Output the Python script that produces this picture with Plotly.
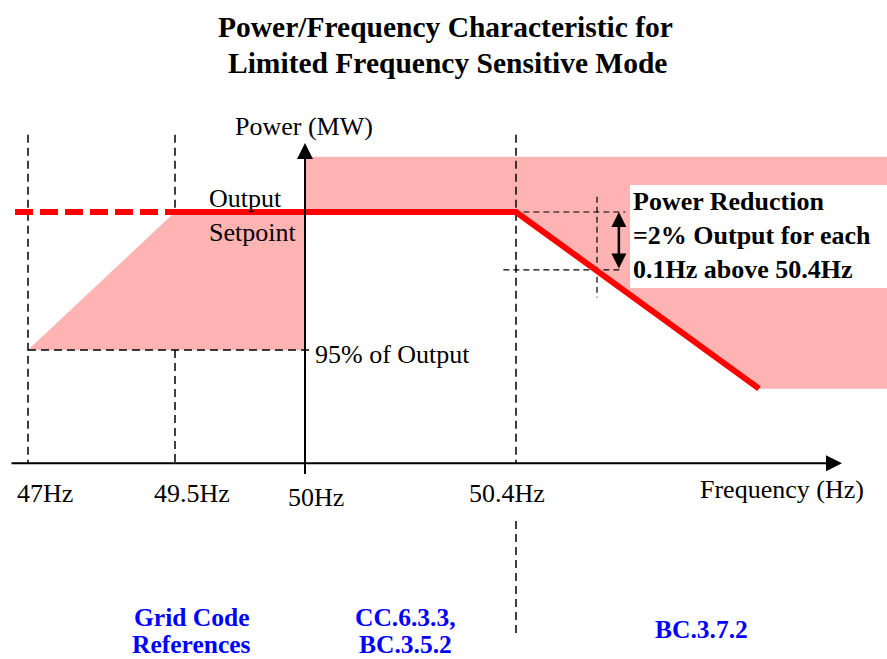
import numpy as np
import plotly.graph_objects as go

# frequency ticks (Hz) and their labels
tick_freqs = [47, 49.5, 50, 50.4]
tick_labels = ["47Hz", "49.5Hz", "50Hz", "50.4Hz"]

# power levels in % of output
setpoint_pct = 100
floor_pct = 95
band_top_pct = 102
axis_pct = 90.9

# droop above 50.4 Hz
droop_freqs = [49.5, 50.4, 50.7]
droop_pct = [100, 100, 93.6]
step_freq = 50.5
step_pct = 97.9

refs_left = ["Grid Code", "References"]
refs_mid = ["CC.6.3.3,", "BC.3.5.2"]
refs_right = "BC.3.7.2"

W, H = 887, 659

# schematic (not to scale) frequency axis
FREQ_KNOTS = [46, 47, 49.5, 50, 50.4, 51.4]
POS_KNOTS = [-31, 28, 175, 305, 516, 1326]


def sx(f):
    return list(np.interp(f, FREQ_KNOTS, POS_KNOTS))


PINK = "#ffb3b3"
RED = "#ff0000"
BLUE = "#0000ff"
SERIF = "Liberation Serif, Times New Roman, serif"

fig = go.Figure()

# shaded regions
fig.add_trace(go.Scatter(
    x=sx([47, 49.5, 50, 50]), y=[floor_pct, setpoint_pct, setpoint_pct, floor_pct],
    fill="toself", fillcolor=PINK, line=dict(width=0), mode="lines", hoverinfo="skip"))
fig.add_trace(go.Scatter(
    x=sx([50, 51.2, 51.2, droop_freqs[2], 50.4, 50]),
    y=[band_top_pct, band_top_pct, droop_pct[2], droop_pct[2], setpoint_pct, setpoint_pct],
    fill="toself", fillcolor=PINK, line=dict(width=0), mode="lines", hoverinfo="skip"))


def dashed(xs, ys, width=1.5, dash="8px,5px", color="black"):
    fig.add_trace(go.Scatter(x=sx(xs), y=ys, mode="lines", hoverinfo="skip",
                             line=dict(color=color, width=width, dash=dash)))


# guide lines
dashed([47, 47], [102.8, axis_pct])
dashed([49.5, 49.5], [102.8, setpoint_pct])
dashed([49.5, 49.5], [floor_pct, axis_pct])
dashed([50.4, 50.4], [102.8, axis_pct])
dashed([50.4, 50.4], [88.8, 84.7])
dashed([47, 50.015], [floor_pct, floor_pct])
dashed([50.376, 50.535], [setpoint_pct, setpoint_pct], width=1.2, dash="6px,4px")
dashed([50.376, 50.53], [step_pct, step_pct], width=1.2, dash="6px,4px")
dashed([step_freq, step_freq], [100.55, 96.9], width=1.2, dash="6px,4px")

# characteristic
fig.add_trace(go.Scatter(x=sx([46.78, 49.5]), y=[setpoint_pct, setpoint_pct], mode="lines",
                         line=dict(color=RED, width=6, dash="18px,7px"), hoverinfo="skip"))
fig.add_trace(go.Scatter(x=sx(droop_freqs), y=droop_pct, mode="lines",
                         line=dict(color=RED, width=6), hoverinfo="skip"))

# axes with arrows
fig.add_annotation(x=sx([50.8025])[0], y=axis_pct, ax=sx([46.695])[0], ay=axis_pct,
                   xref="x", yref="y", axref="x", ayref="y", text="", showarrow=True,
                   arrowhead=2, arrowsize=1.6, arrowwidth=2, arrowcolor="black", standoff=0)
fig.add_annotation(x=sx([50])[0], y=102.5, ax=sx([50])[0], ay=90.45,
                   xref="x", yref="y", axref="x", ayref="y", text="", showarrow=True,
                   arrowhead=2, arrowsize=1.6, arrowwidth=2, arrowcolor="black", standoff=0)
fig.add_annotation(x=sx([50.527])[0], y=setpoint_pct, ax=sx([50.527])[0], ay=step_pct,
                   xref="x", yref="y", axref="x", ayref="y", text="", showarrow=True,
                   arrowhead=2, arrowside="end+start", arrowsize=1.2, arrowwidth=2.5,
                   arrowcolor="black", standoff=0, startstandoff=0)

# white box behind the droop note
fig.add_shape(type="rect", xref="paper", yref="paper", x0=630 / W, x1=1, y0=1 - 288 / H,
              y1=1 - 185 / H, fillcolor="white", line=dict(width=0), layer="above")


def label(px, py, text, size=26, bold=False, color="black", anchor="center"):
    if bold:
        text = "<b>" + text + "</b>"
    fig.add_annotation(x=px / W, y=1 - py / H, xref="paper", yref="paper", text=text,
                       showarrow=False, xanchor=anchor, yanchor="middle",
                       font=dict(family=SERIF, size=size, color=color), align="left")


label(445, 27, "Power/Frequency Characteristic for", size=29.5, bold=True)
label(447, 63, "Limited Frequency Sensitive Mode", size=29.5, bold=True)
label(233, 126, "Power (MW)", anchor="left")
label(207, 215, "Output<br>Setpoint", anchor="left")
label(313, 354, "95% of Output", anchor="left")
label(631, 235, "Power Reduction<br>=2% Output for each<br>0.1Hz above 50.4Hz", size=26,
      bold=True, anchor="left")

tick_px = [45, 192, 316, 507]
tick_py = [494, 494, 497, 494]
for px, py, t in zip(tick_px, tick_py, tick_labels):
    label(px, py, t)
label(698, 490, "Frequency (Hz)", anchor="left")

label(191, 617, refs_left[0], size=25.5, bold=True, color=BLUE)
label(191, 644, refs_left[1], size=25.5, bold=True, color=BLUE)
label(405, 617, refs_mid[0], size=25.5, bold=True, color=BLUE)
label(405, 644, refs_mid[1], size=25.5, bold=True, color=BLUE)
label(701, 629, refs_right, size=25.5, bold=True, color=BLUE)

px_per_pct = (350 - 212) / (setpoint_pct - floor_pct)
fig.update_layout(
    width=W, height=H, margin=dict(l=0, r=0, t=0, b=0),
    paper_bgcolor="white", plot_bgcolor="white", showlegend=False,
    xaxis=dict(range=[0, W], visible=False, fixedrange=True),
    yaxis=dict(range=[setpoint_pct - (H - 212) / px_per_pct, setpoint_pct + 212 / px_per_pct],
               visible=False, fixedrange=True),
)

fig.write_html("out.html", config={"displayModeBar": False},
               post_script="document.body.style.margin='0';")
